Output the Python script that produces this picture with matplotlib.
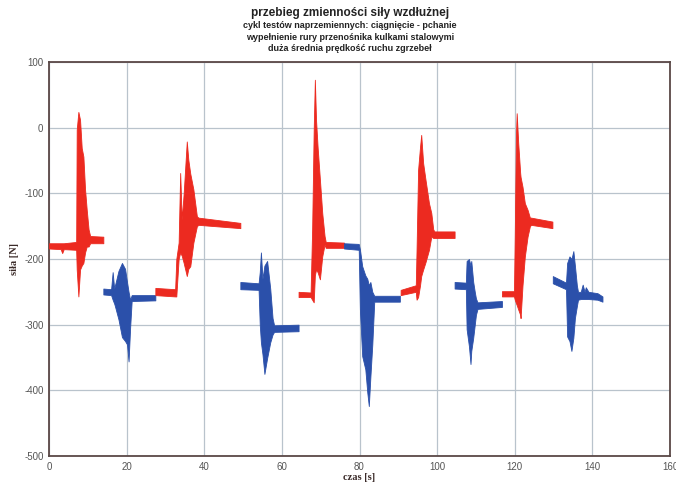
import matplotlib
matplotlib.use("Agg")
import matplotlib.pyplot as plt

# ---- data (envelopes: time [s], upper [N], lower [N]) ----
red1_t  = [0.0, 3.0, 3.4, 3.8, 7.0, 7.14, 7.57, 8.0, 8.43, 8.86, 9.29, 9.72, 10.2, 10.6, 14.0]
red1_hi = [-176, -176, -176, -176, -174, -3, 24, 12, -31, -44, -94, -125, -155, -165, -166]
red1_lo = [-184, -185, -191, -185, -186, -216, -257, -216, -210, -206, -190, -181, -181, -176, -176]

blue1_t  = [14.0, 16.0, 16.4, 16.8, 17.0, 17.9, 18.8, 19.6, 20.1, 20.5, 20.9, 21.3, 27.4]
blue1_hi = [-245, -246, -220, -245, -240, -218, -206, -215, -235, -250, -262, -255, -255]
blue1_lo = [-254, -255, -262, -268, -272, -292, -319, -325, -330, -356, -305, -264, -263]

red2_t  = [27.4, 32.5, 32.8, 33.4, 33.8, 34.2, 34.7, 35.5, 35.9, 36.4, 37.2, 38.1, 38.5, 49.3]
red2_hi = [-244, -246, -200, -175, -69, -140, -100, -21, -49, -70, -94, -135, -137, -145]
red2_lo = [-255, -257, -257, -200, -190, -195, -206, -226, -215, -211, -175, -150, -148, -153]

blue2_t  = [49.3, 54.0, 54.3, 54.6, 55.0, 55.5, 56.2, 57.0, 57.6, 58.0, 64.3]
blue2_hi = [-235, -237, -220, -190, -230, -210, -203, -245, -290, -301, -300]
blue2_lo = [-246, -247, -300, -327, -345, -375, -351, -327, -315, -311, -310]

red3_t  = [64.3, 67.4, 67.8, 68.2, 68.5, 68.8, 69.2, 69.8, 70.4, 71.0, 71.3, 76.0]
red3_hi = [-250, -251, -155, -3, 73, 12, -29, -79, -130, -165, -174, -175]
red3_lo = [-258, -258, -262, -266, -225, -216, -220, -231, -196, -178, -183, -183]

blue3_t  = [76.0, 79.8, 80.1, 80.7, 81.5, 82.0, 82.4, 82.8, 83.3, 83.8, 90.4]
blue3_hi = [-176, -177, -185, -211, -225, -230, -240, -235, -250, -256, -256]
blue3_lo = [-184, -186, -277, -348, -368, -403, -424, -380, -330, -265, -265]

red4_t  = [90.6, 94.5, 94.7, 95.1, 95.6, 95.9, 96.4, 97.0, 97.9, 98.5, 99.0, 99.3, 104.5]
red4_hi = [-247, -240, -186, -64, -29, -11, -54, -79, -115, -130, -155, -158, -158]
red4_lo = [-255, -250, -262, -258, -240, -226, -216, -205, -186, -166, -168, -168, -168]

blue4_t  = [104.5, 107.4, 107.6, 108.2, 108.6, 108.8, 109.3, 109.7, 110.0, 110.4, 116.7]
blue4_hi = [-235, -236, -203, -200, -210, -203, -235, -250, -260, -266, -264]
blue4_lo = [-245, -246, -307, -333, -360, -340, -320, -300, -285, -276, -273]

red5_t  = [116.7, 119.8, 120.0, 120.3, 120.5, 120.9, 121.4, 121.5, 122.0, 122.6, 123.3, 123.9, 124.2, 129.7]
red5_hi = [-249, -249, -165, -14, 22, -24, -69, -75, -90, -115, -125, -137, -137, -143]
red5_lo = [-257, -257, -262, -267, -270, -277, -285, -290, -240, -196, -166, -150, -148, -153]

blue5_t  = [129.8, 133.2, 133.5, 134.1, 134.6, 135.1, 135.5, 136.0, 136.3, 137.0, 137.5, 138.0, 138.3, 139.0, 141.3, 142.6]
blue5_hi = [-226, -236, -206, -196, -200, -188, -210, -240, -250, -250, -239, -250, -243, -250, -252, -257]
blue5_lo = [-237, -246, -318, -325, -340, -320, -290, -272, -262, -261, -261, -261, -261, -261, -262, -265]

x_ticks = [0, 20, 40, 60, 80, 100, 120, 140, 160]
y_ticks = [-500, -400, -300, -200, -100, 0, 100]

title_lines = ["przebieg zmienności siły wzdłużnej",
               "cykl testów naprzemiennych: ciągnięcie - pchanie",
               "wypełnienie rury przenośnika kulkami stalowymi",
               "duża średnia prędkość ruchu zgrzebeł"]

RED = "#ec2a20"
BLUE = "#2b50aa"

fig = plt.figure(figsize=(6.76, 4.84), dpi=100)
ax = fig.add_axes([49/676, 1-456/484, (670-49)/676, (456-62)/484])

segments = [
    (red1_t, red1_hi, red1_lo, RED),
    (blue1_t, blue1_hi, blue1_lo, BLUE),
    (red2_t, red2_hi, red2_lo, RED),
    (blue2_t, blue2_hi, blue2_lo, BLUE),
    (red3_t, red3_hi, red3_lo, RED),
    (blue3_t, blue3_hi, blue3_lo, BLUE),
    (red4_t, red4_hi, red4_lo, RED),
    (blue4_t, blue4_hi, blue4_lo, BLUE),
    (red5_t, red5_hi, red5_lo, RED),
    (blue5_t, blue5_hi, blue5_lo, BLUE),
]
for t, hi, lo, c in segments:
    ax.fill_between(t, lo, hi, color=c, linewidth=0.6, edgecolor=c, zorder=3)

ax.set_xlim(0, 160)
ax.set_ylim(-500, 100)
ax.set_xticks(x_ticks)
ax.set_yticks(y_ticks)
ax.set_xticklabels([str(v) for v in x_ticks])
ax.set_yticklabels([str(v) for v in y_ticks])
ax.grid(True, color="#b9c3cc", linewidth=0.9, zorder=0)
ax.set_axisbelow(True)
ax.tick_params(length=0, labelsize=7, labelcolor="#555555", pad=4)
for lab in ax.get_xticklabels() + ax.get_yticklabels():
    lab.set_family("Liberation Sans")
for s in ax.spines.values():
    s.set_color("#5a4846")
    s.set_linewidth(1.3)

ax.set_xlabel("czas [s]", family="Liberation Serif", fontweight="bold",
              fontsize=7.5, color="#3a2a28", labelpad=1)
ax.set_ylabel("siła [N]", family="Liberation Serif", fontweight="bold",
              fontsize=7.5, color="#3a2a28", labelpad=4)

cx = 350/676
fig.text(cx, 1-13/484, title_lines[0], ha="center", va="center",
         fontsize=8.5, fontweight="bold", family="Liberation Sans", color="#222222")
for i, ln in enumerate(title_lines[1:]):
    fig.text(cx, 1-(25.5+11.5*i)/484, ln, ha="center", va="center",
             fontsize=6.5, fontweight="bold", family="Liberation Sans", color="#222222")

fig.savefig("out.png", dpi=100)
